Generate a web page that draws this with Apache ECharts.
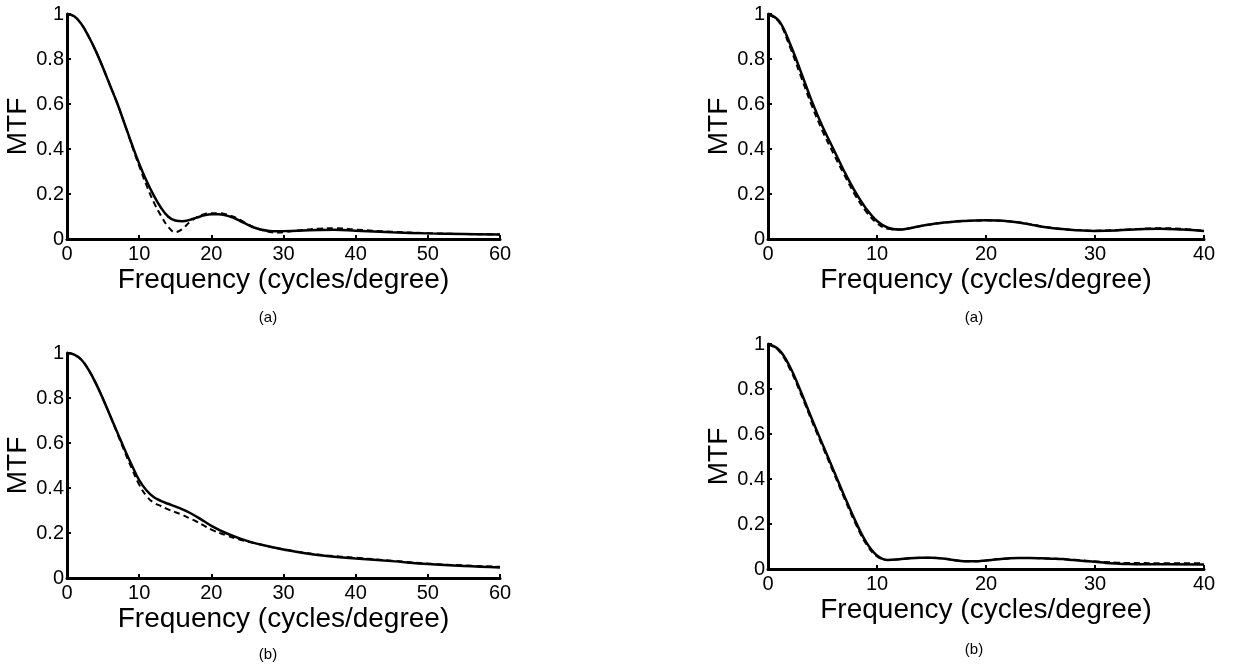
<!DOCTYPE html>
<html lang="en">
<head>
    <meta charset="UTF-8">
    <title>MTF</title>
    <script src="https://cdn.jsdelivr.net/npm/echarts@6/dist/echarts.min.js"></script>
    <style>
        html, body { margin: 0; padding: 0; background: #fff; }
        #main { width: 1239px; height: 665px; }
    </style>
</head>
<body>
    <div id="main"></div>
    <script>
        // 左上 (a): 0-60 cycles/degree
        var freqA1 = [0, 1, 2, 3, 4, 5, 6, 7, 8, 9, 10, 11, 12, 13, 14, 15, 16, 17, 18, 19, 20, 21, 22, 23, 24, 25, 26, 27, 28, 29, 30, 32, 35, 37, 40, 45, 50, 55, 60]
        var solidA1 = [1.0, 0.99, 0.955, 0.9, 0.835, 0.76, 0.68, 0.6, 0.51, 0.42, 0.335, 0.26, 0.195, 0.14, 0.1, 0.082, 0.079, 0.085, 0.095, 0.105, 0.11, 0.11, 0.105, 0.095, 0.08, 0.064, 0.05, 0.041, 0.036, 0.034, 0.035, 0.037, 0.04, 0.041, 0.037, 0.03, 0.025, 0.022, 0.02]
        var dashA1 = [1.0, 0.99, 0.955, 0.9, 0.835, 0.76, 0.68, 0.6, 0.51, 0.415, 0.325, 0.24, 0.165, 0.105, 0.055, 0.03, 0.045, 0.075, 0.097, 0.11, 0.115, 0.115, 0.11, 0.1, 0.085, 0.067, 0.051, 0.04, 0.032, 0.028, 0.03, 0.038, 0.046, 0.048, 0.042, 0.032, 0.026, 0.022, 0.02]

        // 左下 (b): 0-60
        var freqB1 = [0, 1, 2, 3, 4, 5, 6, 7, 8, 9, 10, 11, 12, 13, 14, 15, 16, 17, 18, 19, 20, 22, 24, 26, 28, 30, 33, 36, 40, 45, 50, 55, 60]
        var solidB1 = [1.0, 0.993, 0.97, 0.925, 0.865, 0.795, 0.72, 0.645, 0.57, 0.5, 0.435, 0.39, 0.36, 0.343, 0.33, 0.318, 0.305, 0.29, 0.272, 0.252, 0.232, 0.2, 0.175, 0.155, 0.14, 0.127, 0.11, 0.098, 0.087, 0.075, 0.062, 0.053, 0.047]
        var dashB1 = [1.0, 0.993, 0.97, 0.925, 0.865, 0.795, 0.72, 0.64, 0.56, 0.485, 0.415, 0.365, 0.335, 0.32, 0.305, 0.293, 0.28, 0.265, 0.25, 0.233, 0.215, 0.19, 0.17, 0.155, 0.14, 0.127, 0.112, 0.1, 0.09, 0.077, 0.064, 0.056, 0.05]

        // 右上 (a): 0-40
        var freqA2 = [0, 1, 2, 3, 4, 5, 6, 7, 8, 9, 10, 11, 12, 13, 14, 15, 16, 17, 18, 19, 20, 21, 22, 23, 24, 25, 26, 27, 28, 30, 32, 34, 36, 38, 40]
        var solidA2 = [1.0, 0.97, 0.87, 0.745, 0.615, 0.5, 0.4, 0.3, 0.21, 0.135, 0.08, 0.05, 0.042, 0.048, 0.058, 0.066, 0.072, 0.077, 0.08, 0.082, 0.083, 0.082, 0.079, 0.073, 0.065, 0.056, 0.049, 0.044, 0.04, 0.036, 0.038, 0.043, 0.046, 0.042, 0.036]
        var dashA2 = [1.0, 0.965, 0.855, 0.725, 0.595, 0.48, 0.38, 0.285, 0.195, 0.122, 0.07, 0.045, 0.042, 0.048, 0.058, 0.066, 0.072, 0.077, 0.08, 0.082, 0.083, 0.082, 0.079, 0.074, 0.066, 0.057, 0.05, 0.045, 0.041, 0.037, 0.04, 0.045, 0.048, 0.045, 0.036]

        // 右下 (b): 0-40
        var freqB2 = [0, 1, 2, 3, 4, 5, 6, 7, 8, 9, 10, 11, 12, 13, 14, 15, 16, 17, 18, 19, 20, 21, 22, 23, 24, 25, 26, 27, 28, 29, 30, 31, 32, 33, 35, 40]
        var solidB2 = [1.0, 0.975, 0.9, 0.79, 0.67, 0.555, 0.44, 0.325, 0.215, 0.12, 0.06, 0.04, 0.043, 0.048, 0.05, 0.05, 0.047, 0.04, 0.034, 0.034, 0.038, 0.043, 0.047, 0.049, 0.049, 0.048, 0.046, 0.044, 0.04, 0.036, 0.032, 0.027, 0.024, 0.022, 0.021, 0.02]
        var dashB2 = [1.0, 0.97, 0.89, 0.78, 0.66, 0.545, 0.43, 0.315, 0.205, 0.112, 0.056, 0.04, 0.043, 0.048, 0.05, 0.05, 0.047, 0.04, 0.034, 0.034, 0.038, 0.043, 0.047, 0.049, 0.049, 0.048, 0.046, 0.044, 0.041, 0.038, 0.034, 0.031, 0.028, 0.027, 0.026, 0.025]

        var xMax = [60, 60, 40, 40]
        var panelTags = ['(a)', '(b)', '(a)', '(b)']

        var fontFam = 'Liberation Sans, Arial, sans-serif'

        function pairs(xs, ys) {
            return xs.map(function (x, i) { return [x, ys[i]] })
        }

        var grids = [
            { left: 67, top: 14, width: 433, height: 225 },
            { left: 67, top: 353, width: 433, height: 225 },
            { left: 768, top: 14, width: 436, height: 225 },
            { left: 768, top: 344, width: 436, height: 225 }
        ]

        var axisLine = { show: true, lineStyle: { color: '#000', width: 3 } }
        var axisTick = { show: true, inside: true, length: 4, lineStyle: { color: '#000', width: 2 } }

        var xAxes = [], yAxes = [], titles = []
        grids.forEach(function (g, i) {
            xAxes.push({
                type: 'value', gridIndex: i, min: 0, max: xMax[i], interval: 10,
                name: 'Frequency (cycles/degree)', nameLocation: 'middle', nameGap: 27,
                nameTextStyle: { color: '#000', fontSize: 28, fontFamily: fontFam },
                axisLine: axisLine, axisTick: axisTick, splitLine: { show: false },
                axisLabel: { color: '#000', fontSize: 20, fontFamily: fontFam, margin: 5, showMinLabel: true, showMaxLabel: true }
            })
            yAxes.push({
                type: 'value', gridIndex: i, min: 0, max: 1, interval: 0.2,
                name: 'MTF', nameLocation: 'middle', nameGap: 28, nameRotate: 90,
                nameTextStyle: { color: '#000', fontSize: 28, fontFamily: fontFam },
                axisLine: axisLine, axisTick: axisTick, splitLine: { show: false },
                axisLabel: { color: '#000', fontSize: 20, fontFamily: fontFam, margin: 3 }
            })
        })

        titles = [
            { text: panelTags[0], left: 263, top: 305, textAlign: 'center' },
            { text: panelTags[1], left: 263, top: 642, textAlign: 'center' },
            { text: panelTags[2], left: 969, top: 305, textAlign: 'center' },
            { text: panelTags[3], left: 969, top: 637, textAlign: 'center' }
        ].map(function (t) {
            t.textStyle = { color: '#000', fontSize: 15, fontWeight: 'normal', fontFamily: fontFam }
            return t
        })

        function lineSeries(idx, data, dashed) {
            return {
                type: 'line', xAxisIndex: idx, yAxisIndex: idx,
                data: data, smooth: 0.4, showSymbol: false, silent: true,
                lineStyle: dashed ? { color: '#000', width: 2, type: [6, 4] } : { color: '#000', width: 2.5 }
            }
        }

        var series = [
            lineSeries(0, pairs(freqA1, dashA1), true),
            lineSeries(0, pairs(freqA1, solidA1), false),
            lineSeries(1, pairs(freqB1, dashB1), true),
            lineSeries(1, pairs(freqB1, solidB1), false),
            lineSeries(2, pairs(freqA2, dashA2), true),
            lineSeries(2, pairs(freqA2, solidA2), false),
            lineSeries(3, pairs(freqB2, dashB2), true),
            lineSeries(3, pairs(freqB2, solidB2), false)
        ]

        var mCharts = echarts.init(document.getElementById('main'))
        mCharts.setOption({
            animation: false,
            backgroundColor: '#fff',
            title: titles,
            grid: grids,
            xAxis: xAxes,
            yAxis: yAxes,
            series: series
        })
    </script>
</body>
</html>
